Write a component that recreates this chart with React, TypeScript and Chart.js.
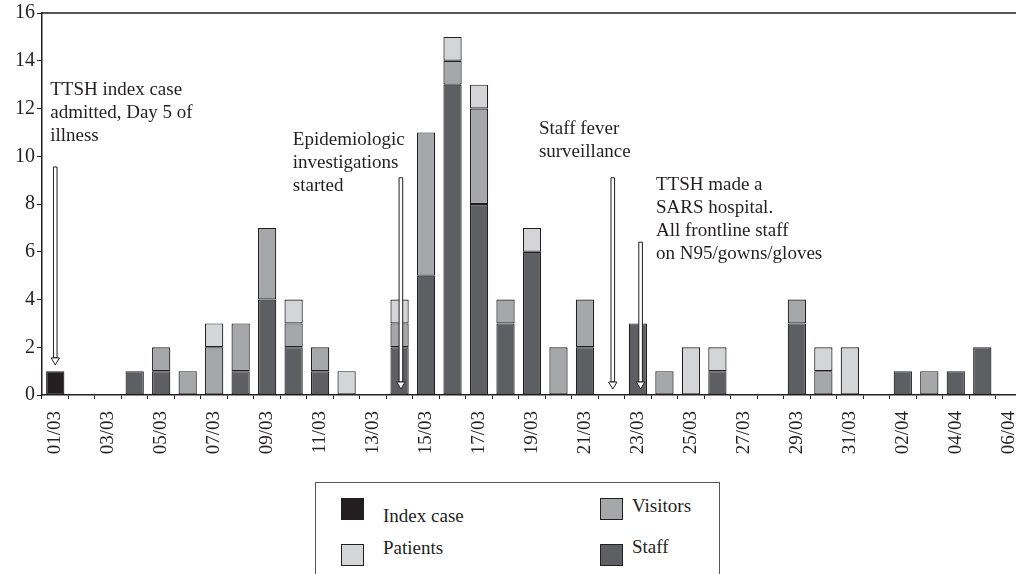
import React, { useEffect, useRef } from "react";
import { Chart, registerables } from "chart.js";

Chart.register(...registerables);

const dates = [
  "01/03", "02/03", "03/03", "04/03", "05/03", "06/03", "07/03", "08/03", "09/03", "10/03",
  "11/03", "12/03", "13/03", "14/03", "15/03", "16/03", "17/03", "18/03", "19/03", "20/03",
  "21/03", "22/03", "23/03", "24/03", "25/03", "26/03", "27/03", "28/03", "29/03", "30/03",
  "31/03", "01/04", "02/04", "03/04", "04/04", "05/04", "06/04",
];

const indexCase = [1, 0, 0, 0, 0, 0, 0, 0, 0, 0, 0, 0, 0, 0, 0, 0, 0, 0, 0, 0, 0, 0, 0, 0, 0, 0, 0, 0, 0, 0, 0, 0, 0, 0, 0, 0, 0];
const staff = [0, 0, 0, 1, 1, 0, 0, 1, 4, 2, 1, 0, 0, 2, 5, 13, 8, 3, 6, 0, 2, 0, 3, 0, 0, 1, 0, 0, 3, 0, 0, 0, 1, 0, 1, 2, 0];
const visitors = [0, 0, 0, 0, 1, 1, 2, 2, 3, 1, 1, 0, 0, 1, 6, 1, 4, 1, 0, 2, 2, 0, 0, 1, 0, 0, 0, 0, 1, 1, 0, 0, 0, 1, 0, 0, 0];
const patients = [0, 0, 0, 0, 0, 0, 1, 0, 0, 1, 0, 1, 0, 1, 0, 1, 1, 0, 1, 0, 0, 0, 0, 0, 2, 1, 0, 0, 0, 1, 2, 0, 0, 0, 0, 0, 0];

const yMin = 0;
const yMax = 16;
const yStep = 2;

// annotation texts: x in category units, y in value units (first line)
const noteTexts = [
  { lines: ["TTSH index case", "admitted, Day 5 of", "illness"], x: -0.19, y: 12.77 },
  { lines: ["Epidemiologic", "investigations", "started"], x: 8.97, y: 10.68 },
  { lines: ["Staff fever", "surveillance"], x: 18.26, y: 11.14 },
  { lines: ["TTSH made a", "SARS hospital.", "All frontline staff", "on N95/gowns/gloves"], x: 22.68, y: 8.8 },
];

// arrows: x in category units, top/tip in value units
const arrowX = [0, 13.05, 21.05, 22.1];
const arrowTop = [9.55, 9.1, 9.1, 6.4];
const arrowTip = [1.26, 0.25, 0.25, 0.25];

const INK = "#231f20";
const C_INDEX = "#231f20";
const C_STAFF = "#5e5f63";
const C_VISITORS = "#a6a7a9";
const C_PATIENTS = "#d4d5d7";
const FONT = '"Liberation Serif", "Times New Roman", serif';

const nz = (arr: number[]) => arr.map((v) => (v === 0 ? null : v));

const overlayPlugin = {
  id: "overlay",
  afterDatasetsDraw(chart: any) {
    const ctx = chart.ctx;
    const xs = chart.scales.x;
    const ys = chart.scales.y;
    const ca = chart.chartArea;
    const catW = xs.getPixelForValue(1) - xs.getPixelForValue(0);
    const px = (v: number) => xs.getPixelForValue(0) + v * catW;

    ctx.save();
    ctx.strokeStyle = INK;
    ctx.lineWidth = 1.5;
    ctx.beginPath();
    ctx.moveTo(ca.left, ca.top);
    ctx.lineTo(ca.right, ca.top);
    ctx.lineTo(ca.right, ca.bottom);
    ctx.stroke();

    for (let i = 0; i < arrowX.length; i++) {
      const x = px(arrowX[i]);
      const yTop = ys.getPixelForValue(arrowTop[i]);
      const yTip = ys.getPixelForValue(arrowTip[i]);
      const headH = 7;
      const headW = 4.2;
      const shaftW = 1.8;
      const yBase = yTip - headH;
      ctx.lineWidth = 1;
      ctx.strokeStyle = INK;
      ctx.fillStyle = "#ffffff";
      ctx.beginPath();
      ctx.rect(x - shaftW, yTop, shaftW * 2, yBase - yTop);
      ctx.fill();
      ctx.stroke();
      ctx.beginPath();
      ctx.moveTo(x - headW, yBase);
      ctx.lineTo(x + headW, yBase);
      ctx.lineTo(x, yTip);
      ctx.closePath();
      ctx.fill();
      ctx.stroke();
    }

    ctx.fillStyle = INK;
    ctx.font = "19px " + FONT;
    ctx.textAlign = "left";
    ctx.textBaseline = "middle";
    for (const n of noteTexts) {
      const x = px(n.x);
      const y0 = ys.getPixelForValue(n.y);
      n.lines.forEach((line, k) => {
        ctx.fillText(line, x, y0 + k * 23);
      });
    }
    ctx.restore();
  },
};

export default function App() {
  const ref = useRef<HTMLCanvasElement | null>(null);

  useEffect(() => {
    if (!ref.current) return;
    const barCommon = {
      borderColor: INK,
      borderWidth: 1.2,
      borderSkipped: false,
      barPercentage: 0.69,
      categoryPercentage: 1,
    };
    const chart = new Chart(ref.current, {
      type: "bar",
      data: {
        labels: dates,
        datasets: [
          { label: "Index case", data: nz(indexCase), backgroundColor: C_INDEX, ...barCommon },
          { label: "Staff", data: nz(staff), backgroundColor: C_STAFF, ...barCommon },
          { label: "Visitors", data: nz(visitors), backgroundColor: C_VISITORS, ...barCommon },
          { label: "Patients", data: nz(patients), backgroundColor: C_PATIENTS, ...barCommon },
        ] as any,
      },
      options: {
        responsive: false,
        animation: false,
        devicePixelRatio: 1,
        layout: { padding: { top: 13, right: 8, left: 0, bottom: 0 } },
        plugins: {
          legend: { display: false },
          tooltip: { enabled: false },
        },
        scales: {
          x: {
            stacked: true,
            afterFit: (s: any) => {
              s.height = 75;
              s.paddingLeft = 0;
              s.paddingRight = 0;
            },
            grid: {
              display: true,
              drawOnChartArea: false,
              drawTicks: true,
              tickLength: 4,
              color: INK,
              lineWidth: 1,
            },
            border: { display: true, color: INK, width: 1.5 },
            ticks: {
              autoSkip: false,
              maxRotation: 90,
              minRotation: 90,
              padding: 12,
              color: INK,
              font: { family: FONT, size: 19 },
              callback: (_v: any, i: number) => (i % 2 === 0 ? dates[i] : ""),
            },
          },
          y: {
            stacked: true,
            min: yMin,
            max: yMax,
            afterFit: (s: any) => {
              s.width = 42;
              s.paddingTop = 0;
              s.paddingBottom = 0;
            },
            grid: {
              display: true,
              drawOnChartArea: false,
              drawTicks: true,
              tickLength: 5,
              color: INK,
              lineWidth: 1,
            },
            border: { display: true, color: INK, width: 1.5 },
            ticks: {
              stepSize: yStep,
              padding: 2,
              color: INK,
              font: { family: FONT, size: 20 },
            },
          },
        },
      } as any,
      plugins: [overlayPlugin],
    });
    return () => chart.destroy();
  }, []);

  const legendText: React.CSSProperties = {
    position: "absolute",
    fontFamily: FONT,
    fontSize: 19,
    lineHeight: "19px",
    color: INK,
    whiteSpace: "nowrap",
  };
  const sq = (left: number, top: number, color: string): React.CSSProperties => ({
    position: "absolute",
    left,
    top,
    width: 21,
    height: 20,
    background: color,
    border: "1px solid " + INK,
  });

  return (
    <div
      style={{
        position: "fixed",
        left: 0,
        top: 0,
        width: 1016,
        height: 574,
        overflow: "hidden",
        background: "#ffffff",
      }}
    >
      <canvas
        ref={ref}
        width={1030}
        height={470}
        style={{ position: "absolute", left: 0, top: 0, width: 1030, height: 470 }}
      />
      <div
        style={{
          position: "absolute",
          left: 315,
          top: 482,
          width: 405,
          height: 120,
          border: "1px solid #555",
          boxSizing: "border-box",
        }}
      />
      <div style={sq(341, 498, C_INDEX)} />
      <div style={{ ...legendText, left: 383, top: 506 }}>Index case</div>
      <div style={sq(341, 544, C_PATIENTS)} />
      <div style={{ ...legendText, left: 383, top: 538 }}>Patients</div>
      <div style={sq(600, 498, C_VISITORS)} />
      <div style={{ ...legendText, left: 632, top: 496 }}>Visitors</div>
      <div style={sq(600, 544, C_STAFF)} />
      <div style={{ ...legendText, left: 632, top: 537 }}>Staff</div>
    </div>
  );
}
